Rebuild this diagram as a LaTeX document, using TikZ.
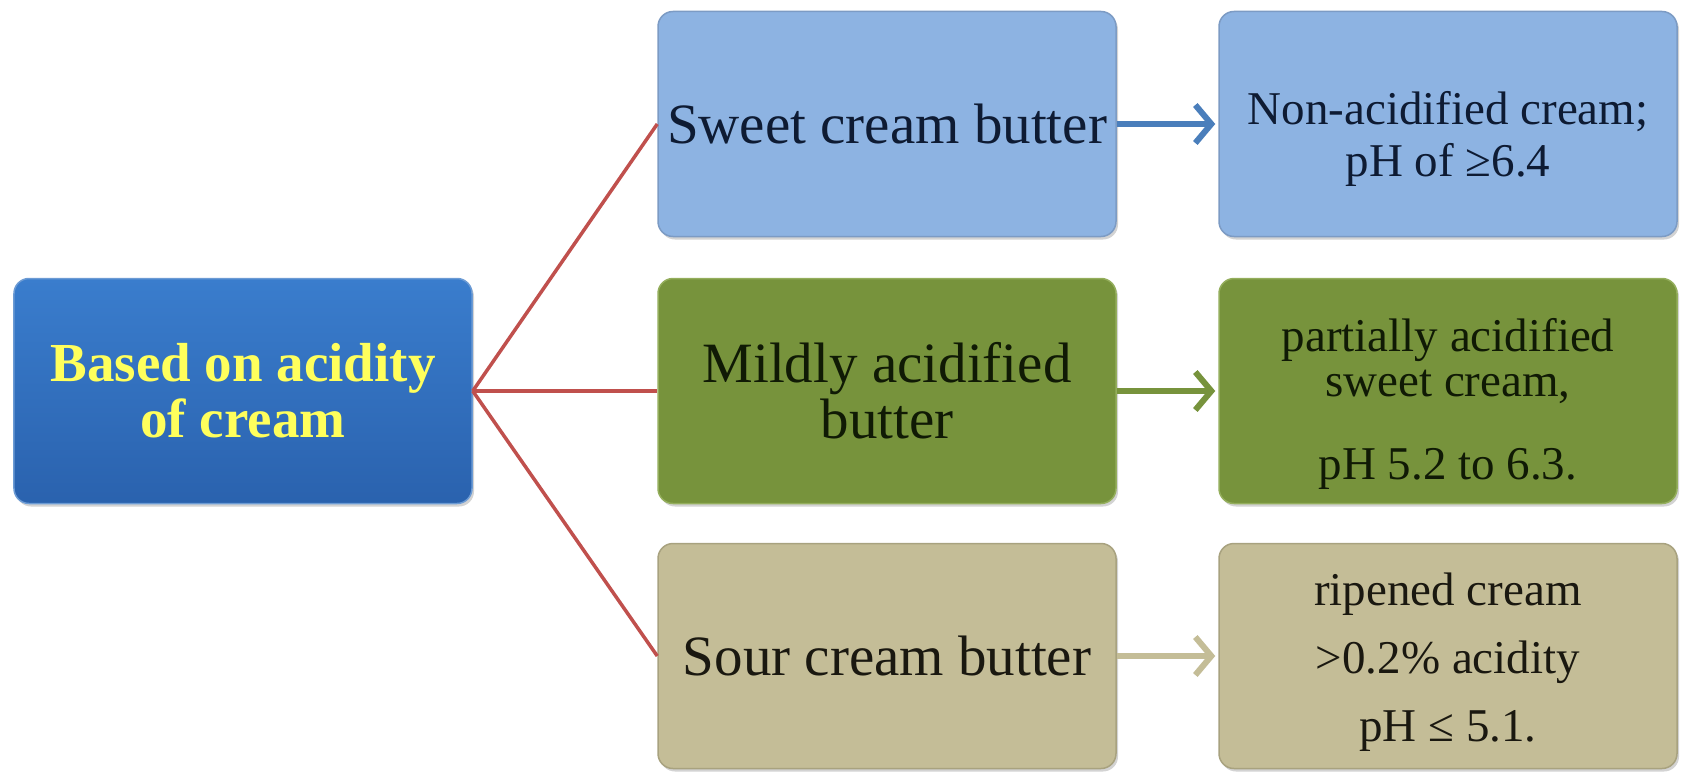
\documentclass[tikz,border=0pt]{standalone}
\usepackage{fontspec}
\setmainfont{Liberation Serif}
\usetikzlibrary{arrows.meta,shadows}
\definecolor{rootblueL}{HTML}{3A7DCD}
\definecolor{rootblueD}{HTML}{2A62AE}
\definecolor{rootedge}{HTML}{6C9BD4}
\definecolor{skyfill}{HTML}{8DB3E2}
\definecolor{skyedge}{HTML}{7C9BC4}
\definecolor{olivefill}{HTML}{77933C}
\definecolor{oliveedge}{HTML}{94AE5C}
\definecolor{tanfill}{HTML}{C4BD97}
\definecolor{tanedge}{HTML}{A8A27F}
\definecolor{linkred}{HTML}{C0504D}
\definecolor{arrowblue}{HTML}{4A7EBB}
\definecolor{textyellow}{HTML}{FFFF5C}
\definecolor{navytext}{HTML}{0E1B33}
\definecolor{greentext}{HTML}{101A05}
\definecolor{tantext}{HTML}{1A1810}
\begin{document}
\begin{tikzpicture}[x=1bp,y=-1bp,
  box/.style={rectangle, rounded corners=15bp, minimum width=458bp, minimum height=225bp,
    align=center, inner sep=0pt, line width=1.5bp,
    drop shadow={shadow xshift=2bp,shadow yshift=-3bp,opacity=0.35}},
  rootbox/.style={box, draw=rootedge, top color=rootblueL, bottom color=rootblueD,
    text=textyellow, font=\bfseries\fontsize{55bp}{56bp}\selectfont},
  midfont/.style={font=\fontsize{57bp}{56bp}\selectfont},
  rightfont/.style={align=center, inner sep=0pt},
  skybox/.style={box, draw=skyedge, fill=skyfill, text=navytext},
  olivebox/.style={box, draw=oliveedge, fill=olivefill, text=greentext},
  tanbox/.style={box, draw=tanedge, fill=tanfill, text=tantext},
  link/.style={draw=linkred, line width=3.5bp},
  flow/.style={line width=6bp, -{Straight Barb[length=16bp,width=38bp,line width=6bp]}, shorten >=3bp}
]
\useasboundingbox (0,0) rectangle (1684,773);

\node[rootbox] (root) at (243,391) {Based on acidity\\of cream};

\node[skybox, midfont] (sweet) at (887,124) {Sweet cream butter};
\node[olivebox, midfont] (mild) at (887,391) {Mildly acidified\\butter};
\node[tanbox, midfont] (sour) at (887,656) {Sour cream butter};

\node[skybox] (nonacid) at (1448,124) {};
\node[olivebox] (partial) at (1448,391) {};
\node[tanbox] (ripened) at (1448,656) {};

\node[rightfont, text=navytext, font=\fontsize{47bp}{52bp}\selectfont] (nonacidT) at ([yshift=-15bp]nonacid.center) {Non-acidified cream;\\pH of ≥6.4};
\node[rightfont, text=greentext, font=\fontsize{47bp}{45bp}\selectfont] (partialT) at ([yshift=-13bp]partial.center) {partially acidified\\sweet cream,\\[38bp]pH 5.2 to 6.3.};
\node[rightfont, text=tantext, font=\fontsize{47bp}{68bp}\selectfont] (ripenedT) at ([yshift=-6bp]ripened.center) {ripened cream\\>0.2\% acidity\\pH ≤ 5.1.};

\draw[link] (root.east) -- (sweet.west);
\draw[link] (root.east) -- (mild.west);
\draw[link] (root.east) -- (sour.west);

\draw[flow, draw=arrowblue] (sweet.east) -- (nonacid.west);
\draw[flow, draw=olivefill] (mild.east) -- (partial.west);
\draw[flow, draw=tanfill] (sour.east) -- (ripened.west);
\end{tikzpicture}
\end{document}
